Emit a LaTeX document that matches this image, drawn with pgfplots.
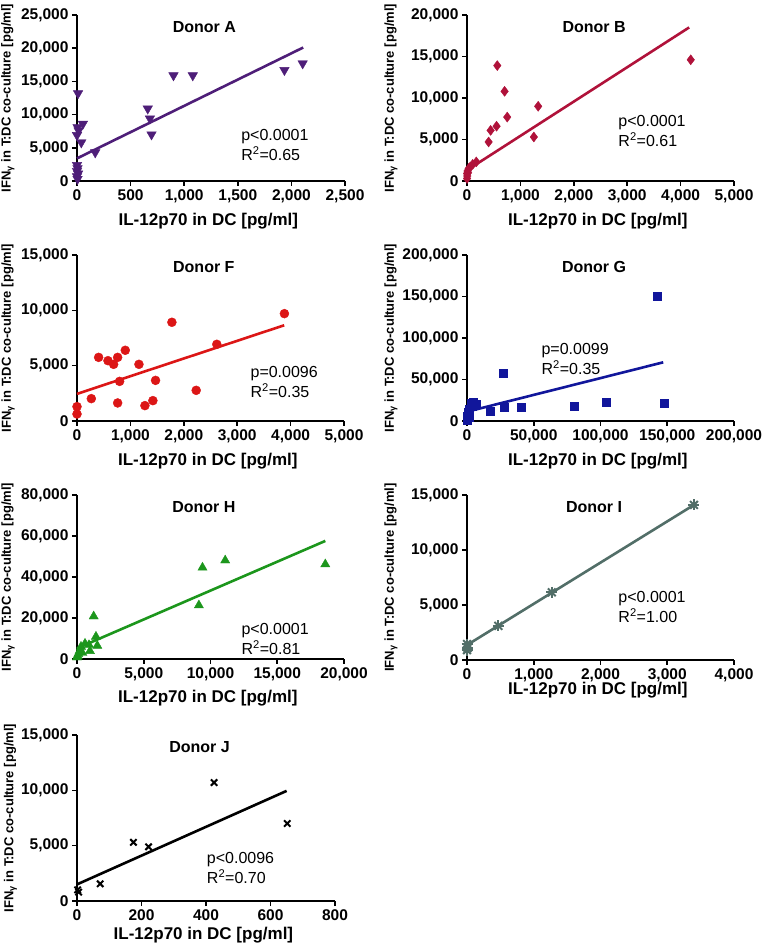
\documentclass[border=0pt]{standalone}
\usepackage{fontspec}
\setmainfont{Liberation Sans}
\usepackage{pgfplots}
\pgfplotsset{compat=1.18}

\definecolor{cA}{RGB}{78,30,120}
\definecolor{cB}{RGB}{176,18,58}
\definecolor{cF}{RGB}{220,22,22}
\definecolor{cG}{RGB}{17,22,155}
\definecolor{cH}{RGB}{28,150,28}
\definecolor{cI}{RGB}{82,110,104}

\tikzset{
  annot/.style={anchor=north west, align=left, font=\fontsize{16}{20}\selectfont},
  ttl/.style={font=\fontsize{16}{19}\selectfont\bfseries},
  regline/.style={line width=2.6pt},
}
\pgfplotsset{
  donor/.style={
    scale only axis, anchor=south west,
    axis x line*=bottom, axis y line*=left,
    axis line style={line width=1.6pt,-},
    tick align=outside, major tick length=5pt,
    every tick/.style={line width=1.6pt, black},
    xmin=0, ymin=0, clip=false,
    scaled ticks=false,
    tick label style={font=\fontsize{15.5}{18}\selectfont\bfseries},
    /pgf/number format/fixed,
    /pgf/number format/1000 sep={,},
    /pgf/number format/assume math mode=true,
    xlabel={IL-12p70 in DC [pg/ml]},
    ylabel={IFN\textsubscript{γ} in T:DC co-culture [pg/ml]},
    xlabel style={font=\fontsize{17}{20}\selectfont\bfseries,
      at={(axis description cs:0.49,-0.241)}, anchor=center},
    ylabel style={font=\fontsize{13}{15}\selectfont\bfseries,
      anchor=center},
  },
  leftcol/.style={ylabel style={at={(axis description cs:-0.258,0.5)}}},
  rightcol/.style={ylabel style={at={(axis description cs:-0.285,0.5)}}},
}

\begin{document}
\begin{tikzpicture}
\path[use as bounding box] (0pt,0pt) rectangle (765pt,952pt);

% Donor A
\begin{axis}[donor, leftcol, at={(77pt,771pt)}, width=268pt, height=166pt,
  xmax=2500, xtick={0,500,1000,1500,2000,2500},
  ymax=25000, ytick={0,5000,10000,15000,20000,25000}]
\addplot[cA, regline] coordinates {(0,3400) (2110,20100)};
\addplot[only marks, mark=triangle*, mark size=5.5pt, mark options={rotate=180, fill=cA, draw=cA}]
  table[row sep=\\] {
  x y \\
  10 13200 \\ 5 8100 \\ 0 6900 \\ 15 7600 \\ 55 8600 \\ 40 5800 \\
  170 4300 \\ 0 2400 \\ 5 1900 \\ 0 1500 \\ 10 1100 \\ 0 700 \\ 5 300 \\
  660 10900 \\ 680 9400 \\ 695 7000 \\ 900 15900 \\ 1080 15900 \\
  1935 16700 \\ 2105 17700 \\
  };
\node[ttl] at (rel axis cs:0.475,0.925) {Donor A};
\node[annot] at (rel axis cs:0.60,0.33) {p<0.0001\\R\textsuperscript{2}=0.65};
\end{axis}

% Donor B
\begin{axis}[donor, rightcol, at={(467pt,771pt)}, width=267pt, height=166pt,
  xmax=5000, xtick={0,1000,2000,3000,4000,5000},
  ymax=20000, ytick={0,5000,10000,15000,20000}]
\addplot[cB, regline] coordinates {(0,1300) (4160,18500)};
\addplot[only marks, mark=diamond*, mark size=5pt, mark options={fill=cB, draw=cB}]
  table[row sep=\\] {
  x y \\
  4190 14600 \\ 567 13900 \\ 704 10800 \\ 1333 9000 \\ 753 7700 \\
  554 6600 \\ 442 6100 \\ 405 4700 \\ 1252 5300 \\ 174 2300 \\
  106 2000 \\ 62 1700 \\ 30 1500 \\ 10 1200 \\ 0 900 \\ 5 600 \\
  0 300 \\ 20 1000 \\
  };
\node[ttl] at (rel axis cs:0.476,0.925) {Donor B};
\node[annot] at (rel axis cs:0.554,0.416) {p<0.0001\\R\textsuperscript{2}=0.61};
\end{axis}

% Donor F
\begin{axis}[donor, leftcol, at={(77pt,531pt)}, width=267pt, height=166pt,
  xmax=5000, xtick={0,1000,2000,3000,4000,5000},
  ymax=15000, ytick={0,5000,10000,15000}]
\addplot[cF, regline] coordinates {(0,2450) (3880,8650)};
\addplot[only marks, mark=*, mark size=4.5pt, mark options={fill=cF, draw=cF}]
  table[row sep=\\] {
  x y \\
  0 1300 \\ 0 630 \\ 268 2020 \\ 405 5750 \\ 580 5450 \\ 686 5120 \\
  761 5750 \\ 904 6390 \\ 798 3580 \\ 761 1630 \\ 1160 5120 \\
  1272 1390 \\ 1421 1840 \\ 1471 3670 \\ 1777 8920 \\ 2232 2770 \\
  2618 6930 \\ 3884 9700 \\
  };
\node[ttl] at (rel axis cs:0.475,0.925) {Donor F};
\node[annot] at (rel axis cs:0.637,0.35) {p=0.0096\\R\textsuperscript{2}=0.35};
\end{axis}

% Donor G
\begin{axis}[donor, rightcol, at={(467pt,531pt)}, width=267pt, height=166pt,
  xmax=200000, xtick={0,50000,100000,150000,200000},
  ymax=200000, ytick={0,50000,100000,150000,200000}]
\addplot[cG, regline] coordinates {(0,11200) (147000,70700)};
\addplot[only marks, mark=square*, mark size=4pt, mark options={fill=cG, draw=cG}]
  table[row sep=\\] {
  x y \\
  142700 150600 \\ 27400 57800 \\ 104300 22900 \\ 147700 21300 \\
  80300 17300 \\ 40900 16500 \\ 28000 16500 \\ 17700 12400 \\
  3000 21500 \\ 5000 23000 \\ 7000 20000 \\ 4000 18000 \\ 2000 14000 \\
  1000 10000 \\ 500 6000 \\ 1500 4000 \\ 300 1000 \\
  };
\node[ttl] at (rel axis cs:0.476,0.925) {Donor G};
\node[annot] at (rel axis cs:0.266,0.49) {p=0.0099\\R\textsuperscript{2}=0.35};
\end{axis}

% Donor H
\begin{axis}[donor, leftcol, at={(77pt,293pt)}, width=267pt, height=164pt,
  xmax=20000, xtick={0,5000,10000,15000,20000},
  ymax=80000, ytick={0,20000,40000,60000,80000}]
\addplot[cH, regline] coordinates {(0,5200) (18600,57600)};
\addplot[only marks, mark=triangle*, mark size=5.3pt, mark options={fill=cH, draw=cH}]
  table[row sep=\\] {
  x y \\
  18600 46200 \\ 11100 48100 \\ 9400 44600 \\ 9130 26200 \\
  1250 20800 \\ 1420 10900 \\ 1520 6500 \\ 970 3900 \\ 900 6800 \\
  600 7500 \\ 300 6000 \\ 200 4000 \\ 100 2500 \\ 50 1500 \\ 0 800 \\
  400 3000 \\
  };
\node[ttl] at (rel axis cs:0.475,0.925) {Donor H};
\node[annot] at (rel axis cs:0.603,0.24) {p<0.0001\\R\textsuperscript{2}=0.81};
\end{axis}

% Donor I
\begin{axis}[donor, rightcol, at={(467pt,292pt)}, width=267pt, height=165pt,
  xlabel style={at={(axis description cs:0.49,-0.182)}},
  xmax=4000, xtick={0,1000,2000,3000,4000},
  ymax=15000, ytick={0,5000,10000,15000}]
\addplot[cI, regline] coordinates {(0,1360) (3400,14100)};
\addplot[only marks, mark=+, mark size=5.5pt, mark options={draw=cI, line width=2pt}]
  table[row sep=\\] {
  x y \\
  3400 14100 \\ 1270 6150 \\ 470 3100 \\ 0 1450 \\ 10 1100 \\ 0 900 \\
  };
\addplot[only marks, mark=x, mark size=5.5pt, mark options={draw=cI, line width=2pt}]
  table[row sep=\\] {
  x y \\
  3400 14100 \\ 1270 6150 \\ 470 3100 \\ 0 1450 \\ 10 1100 \\ 0 900 \\
  };
\node[ttl] at (rel axis cs:0.476,0.925) {Donor I};
\node[annot] at (rel axis cs:0.554,0.436) {p<0.0001\\R\textsuperscript{2}=1.00};
\end{axis}

% Donor J
\begin{axis}[donor, leftcol, at={(77pt,51pt)}, width=258pt, height=166pt,
  xlabel style={at={(axis description cs:0.49,-0.205)}},
  xmax=800, xtick={0,200,400,600,800},
  ymax=15000, ytick={0,5000,10000,15000}]
\addplot[black, regline] coordinates {(0,1500) (650,9950)};
\addplot[only marks, mark=x, mark size=4.5pt, mark options={draw=black, line width=2pt}]
  table[row sep=\\] {
  x y \\
  425 10700 \\ 652 7000 \\ 175 5300 \\ 222 4900 \\ 72 1550 \\ 2 1000 \\ 5 800 \\
  };
\node[ttl] at (rel axis cs:0.475,0.925) {Donor J};
\node[annot] at (rel axis cs:0.49,0.313) {p<0.0096\\R\textsuperscript{2}=0.70};
\end{axis}
\end{tikzpicture}
\end{document}
